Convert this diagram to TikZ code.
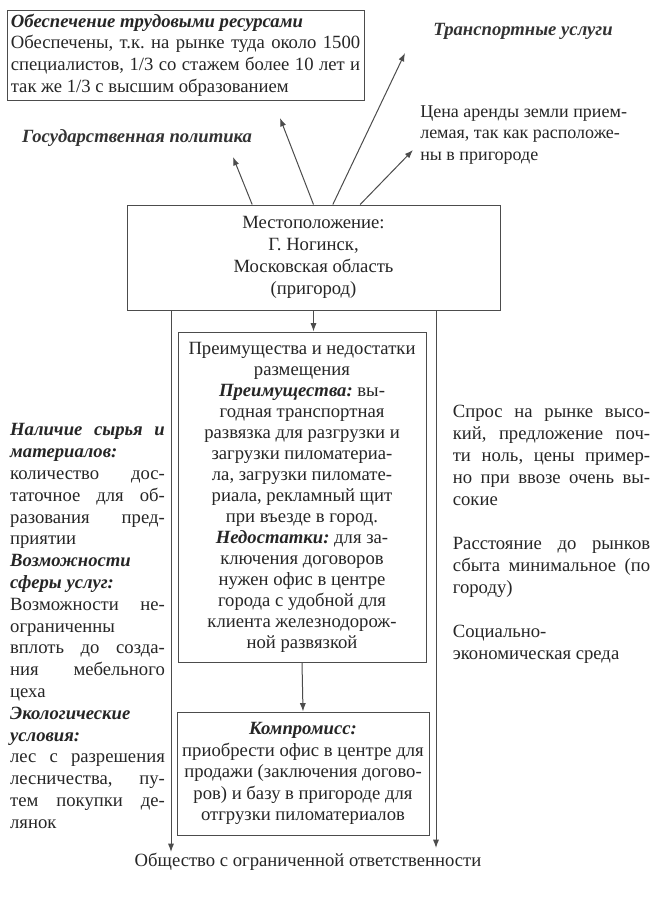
\documentclass[tikz,border=0pt]{standalone}
\usepackage{fontspec}
\setmainfont{Liberation Serif}
\usetikzlibrary{arrows.meta,positioning,calc}
\frenchspacing
\newcommand{\hdr}[1]{{\bfseries\itshape #1}}
\tikzset{
  box/.style={draw=black!70, line width=0.75pt, align=center, inner sep=2pt, text=black!85, font=\fontsize{14}{16.2}\selectfont},
  txt/.style={align=justify, inner sep=0pt, text=black!85, font=\fontsize{14}{16.2}\selectfont},
  title/.style={inner sep=0pt, text=black!80, font=\fontsize{14}{16.2}\selectfont\bfseries\itshape},
  arrow/.style={-{Latex[length=2.2mm,width=1.6mm]}, draw=black!70, line width=0.75pt}
}
\begin{document}
\begin{tikzpicture}[x=0.75pt,y=-0.75pt]
\useasboundingbox[fill=white] (0,0) rectangle (669,900);
% top row
\node[box, align=justify, text width=262pt, minimum width=267.75pt, minimum height=67.5pt] (res) at (185.5,55) {\hdr{Обеспечение трудовыми ресурсами}\\
Обеспечены, т.к. на рынке туда около 1500\linebreak
специалистов, 1/3 со стажем более 10 лет и\linebreak
так же 1/3 с высшим образованием};
\node[title] (trans) at (523,31) {Транспортные услуги};
\node[title] (gov) at (137,138) {Государственная политика};
\node[txt, align=left, anchor=west, font=\fontsize{13.5}{16.2}\selectfont] (rent) at (420,135) {Цена аренды земли прием-\\
лемая, так как расположе-\\
ны в пригороде};
% location
\node[box, minimum width=279.75pt, minimum height=78.75pt, font=\fontsize{14}{16.5}\selectfont] (loc) at (313.5,257.5) {Местоположение:\\ Г. Ногинск,\\ Московская область\\ (пригород)};
\coordinate (govtip) at (233,157);
\coordinate (restip) at (280,118);
\coordinate (transtip) at (405,53);
\coordinate (renttip) at (413,150);
\draw[arrow] ([xshift=-46pt]loc.north) -- (govtip);
\draw[arrow] ([xshift=0pt]loc.north) -- (restip);
\draw[arrow] ([xshift=14.5pt]loc.north) -- (transtip);
\draw[arrow] ([xshift=35pt]loc.north) -- (renttip);
% middle column
\node[box, minimum width=186pt, minimum height=247.5pt, font=\fontsize{14}{15.75}\selectfont] (pros) at (302,497) {Преимущества и недостатки\\
размещения\\
\hdr{Преимущества:} вы-\\
годная транспортная\\
развязка для разгрузки и\\
загрузки пиломатериа-\\
ла, загрузки пиломате-\\
риала, рекламный щит\\
при въезде в город.\\
\hdr{Недостатки:} для за-\\
ключения договоров\\
нужен офис в центре\\
города с удобной для\\
клиента железнодорож-\\
ной развязкой};
\node[box, minimum width=189pt, minimum height=92.25pt] (comp) at (303,773.5) {\hdr{Компромисс:}\\
приобрести офис в центре для\\
продажи (заключения догово-\\
ров) и базу в пригороде для\\
отгрузки пиломатериалов};
\node[txt, align=center] (llc) at (308,862) {Общество с ограниченной ответственности};
\draw[arrow] (loc.south) -- (loc.south |- pros.north);
\draw[arrow] (pros.south) -- (comp.north);
% side lines
\coordinate (lend) at (171,852);
\coordinate (rend) at (436,848);
\draw[arrow] (lend |- loc.south) -- (lend);
\draw[arrow] (rend |- loc.south) -- (rend);
% left column
\node[txt, text width=116pt, font=\fontsize{14}{16.35}\selectfont] (left) at (87.5,626) {\hdr{Наличие сырья и\linebreak
материалов:}\\
количество дос-\linebreak
таточное для об-\linebreak
разования пред-\linebreak
приятии\\
\hdr{Возможности}\\
\hdr{сферы услуг:}\\
Возможности не-\linebreak
ограниченны\\
вплоть до созда-\linebreak
ния мебельного\linebreak
цеха\\
\hdr{Экологические}\\
\hdr{условия:}\\
лес с разрешения\linebreak
лесничества, пу-\linebreak
тем покупки де-\linebreak
лянок};
% right column
\node[txt, text width=148pt, font=\fontsize{14}{16.5}\selectfont] (right) at (551.5,534) {Спрос на рынке высо-\linebreak
кий, предложение поч-\linebreak
ти ноль, цены пример-\linebreak
но при ввозе очень вы-\linebreak
сокие\\[16.5pt]
Расстояние до рынков\linebreak
сбыта минимальное (по\linebreak
городу)\\[16.5pt]
Социально-\\
экономическая среда};
\end{tikzpicture}
\end{document}
